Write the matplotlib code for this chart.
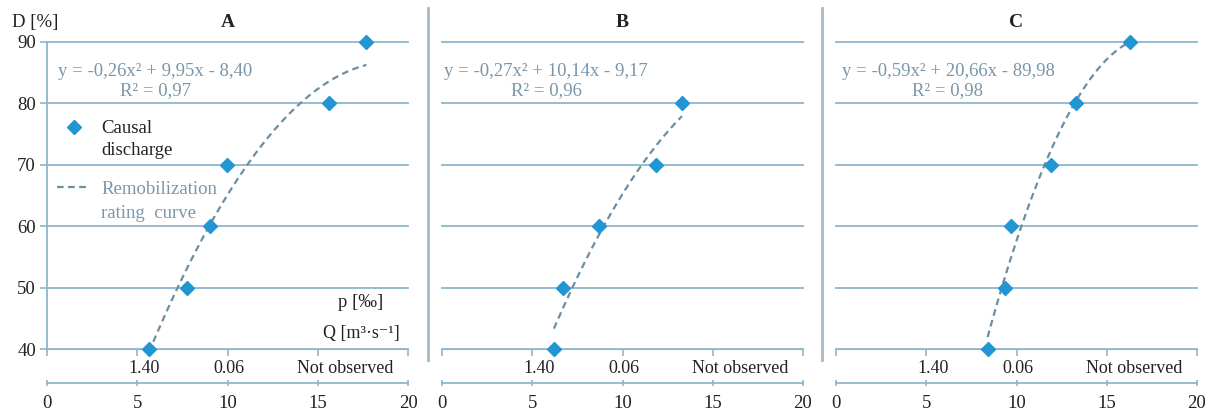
import numpy as np
import matplotlib
matplotlib.use("Agg")
import matplotlib.pyplot as plt
from matplotlib.lines import Line2D
import matplotlib.transforms as mtransforms

plt.rcParams["font.family"] = ["Liberation Serif", "DejaVu Serif"]

# causal discharge points: x on the 0-20 scale, D in %
a_x = [5.65, 7.75, 9.03, 9.97, 15.6, 17.7]
a_d = [40, 50, 60, 70, 80, 90]
b_x = [6.2, 6.68, 8.7, 11.88, 13.3]
b_d = [40, 50, 60, 70, 80]
c_x = [8.4, 9.35, 9.68, 11.9, 13.27, 16.3]
c_d = [40, 50, 60, 70, 80, 90]

# remobilization rating curves, coefficients as printed on the chart
a_coef = [-0.26, 9.95, -8.40]
b_coef = [-0.27, 10.14, -9.17]
c_coef = [-0.59, 20.66, -89.98]

panel_names = ["A", "B", "C"]
equations = ["y = -0,26x\u00b2 + 9,95x - 8,40\nR\u00b2 = 0,97",
             "y = -0,27x\u00b2 + 10,14x - 9,17\nR\u00b2 = 0,96",
             "y = -0,59x\u00b2 + 20,66x - 89,98\nR\u00b2 = 0,98"]
d_ticks = [40, 50, 60, 70, 80, 90]
x_ticks = [0, 5, 10, 15, 20]
cat_labels = ["1.40", "0.06", "Not observed"]
cat_pos = [5.4, 10.1, 16.5]

BLUE = "#2196d3"
DASH = "#6b8ea3"
GRID = "#8fb6cb"
EQ = "#7a96a8"
SEP = "#a6b9c6"
TXT = "#222222"
FS = 13.5

W, H = 1214, 416
fig = plt.figure(figsize=(W / 100, H / 100), dpi=100)
lefts_px = [47, 442, 836]
width_px, top_px, bot_px = 361, 42, 349
eq_cx = [155, 546, 948]
data = [(a_x, a_d, a_coef), (b_x, b_d, b_coef), (c_x, c_d, c_coef)]

for i, (xs, ds, coef) in enumerate(data):
    ax = fig.add_axes([lefts_px[i] / W, 1 - bot_px / H, width_px / W, (bot_px - top_px) / H])
    ax.set_xlim(0, 20); ax.set_ylim(40, 90)
    ax.set_yticks(d_ticks); ax.set_xticks(x_ticks)
    ax.grid(axis="y", color=GRID, lw=1.3)
    for gl in ax.get_ygridlines():
        gl.set_clip_on(False)
    ax.spines[["top", "right"]].set_visible(False)
    ax.spines["bottom"].set_position(("outward", 24.5))
    ax.spines["bottom"].set_color(GRID); ax.spines["bottom"].set_linewidth(1.3)
    ax.tick_params(axis="x", colors=GRID, labelcolor=TXT, labelsize=FS, length=5,
                   direction="inout", width=1.2, pad=6)
    if i == 0:
        ax.spines["left"].set_color(GRID); ax.spines["left"].set_linewidth(1.3)
        ax.tick_params(axis="y", colors=GRID, labelcolor=TXT, labelsize=FS, length=5, width=1.2, pad=3)
    else:
        ax.spines["left"].set_visible(False)
        ax.tick_params(axis="y", left=False, labelleft=False)

    sec = ax.secondary_xaxis(0)
    sec.set_xticks(x_ticks); sec.set_xticklabels([])
    sec.tick_params(colors=GRID, length=5, width=1.2)
    sec.spines["bottom"].set_color(GRID)

    # trendline over the range of the points, then the points
    xx = np.linspace(min(xs), max(xs), 100)
    ax.plot(xx, np.polyval(coef, xx), ls="--", color=DASH, lw=1.6, dashes=(3, 2))
    ax.plot(xs, ds, ls="none", marker="D", ms=7.5, color=BLUE, clip_on=False, zorder=5)

    trans = mtransforms.blended_transform_factory(ax.transData, ax.transAxes)
    for lab, p in zip(cat_labels, cat_pos):
        ax.text(p, -0.065, lab, transform=trans, ha="center", va="center", fontsize=13, color=TXT)

    ax.text(0.5, 1.062, panel_names[i], transform=ax.transAxes, ha="center", va="center",
            fontsize=14, fontweight="bold", color=TXT)
    ax.text((eq_cx[i] - lefts_px[i]) / width_px, 0.873, equations[i], transform=ax.transAxes,
            ha="center", va="center", fontsize=FS, color=EQ, linespacing=1.1)

    if i == 0:
        blank = Line2D([], [], ls="none")
        leg1 = ax.legend([Line2D([], [], ls="none", marker="D", ms=7.5, color=BLUE), blank],
                         ["Causal", "discharge"], loc="upper left", bbox_to_anchor=(0.028, 0.745),
                         frameon=False, borderpad=0, borderaxespad=0, handlelength=1.75,
                         handletextpad=0.6, labelspacing=0.25, fontsize=FS)
        for t in leg1.get_texts():
            t.set_color(TXT)
        ax.add_artist(leg1)
        leg2 = ax.legend([Line2D([], [], ls="--", color=DASH, lw=1.6, dashes=(3, 2)), blank],
                         ["Remobilization", "rating  curve"], loc="upper left",
                         bbox_to_anchor=(0.028, 0.549), frameon=False, borderpad=0,
                         borderaxespad=0, handlelength=1.75, handletextpad=0.6,
                         labelspacing=0.4, fontsize=FS)
        for t in leg2.get_texts():
            t.set_color(EQ)
        ax.text(0.87, 0.153, "p [\u2030]", transform=ax.transAxes, ha="center", va="center",
                fontsize=FS, color=TXT)
        ax.text(0.87, 0.052, "Q [m\u00b3\u00b7s\u207b\u00b9]", transform=ax.transAxes, ha="center",
                va="center", fontsize=13, color=TXT)

fig.text(35 / W, 1 - 23 / H, "D [%]", ha="center", va="center", fontsize=FS, color=TXT)

for xs_px in (428, 822):
    fig.add_artist(Line2D([xs_px / W] * 2, [1 - 8 / H, 1 - 360 / H], color=SEP, lw=2,
                          transform=fig.transFigure))

fig.savefig("out.png", dpi=100, facecolor="white")
